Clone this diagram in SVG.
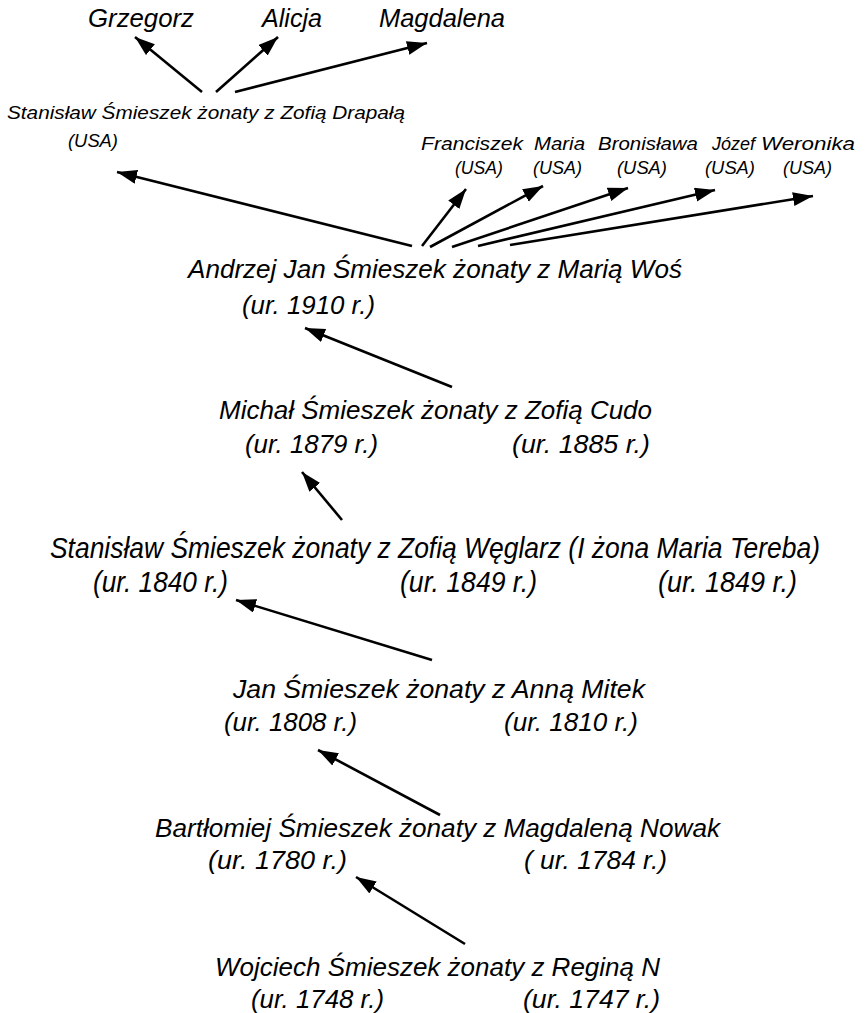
<svg xmlns="http://www.w3.org/2000/svg" width="865" height="1013" viewBox="0 0 865 1013">
  <style>
    text { font-family: "Liberation Sans", Arial, sans-serif; font-style: italic; fill: #000; }
    .big { font-size: 26px; }
    .mid { font-size: 26px; }
    .tall { font-size: 27px; }
    .small { font-size: 19px; }
    .link { stroke: #000; stroke-width: 2.6; fill: none; marker-end: url(#head); }
  </style>
  <defs>
    <marker id="head" markerUnits="userSpaceOnUse" markerWidth="22" markerHeight="16" refX="20" refY="7" orient="auto">
      <path d="M0,0 L20,7 L0,14 Z" fill="#000"/>
    </marker>
  </defs>
  <rect width="865" height="1013" fill="#fff"/>

  <!-- parent-to-child links -->
  <g id="connectors">
    <line class="link" x1="202" y1="92" x2="135" y2="37"/>
    <line class="link" x1="216" y1="92" x2="278" y2="37"/>
    <line class="link" x1="235" y1="92" x2="427" y2="43"/>
    <line class="link" x1="412" y1="246" x2="117" y2="172"/>
    <line class="link" x1="422" y1="246" x2="466" y2="189"/>
    <line class="link" x1="430" y1="247" x2="543" y2="186"/>
    <line class="link" x1="452" y1="247" x2="628" y2="188"/>
    <line class="link" x1="478" y1="246" x2="715" y2="190"/>
    <line class="link" x1="510" y1="245" x2="813" y2="196"/>
    <line class="link" x1="452" y1="387" x2="305" y2="328"/>
    <line class="link" x1="342" y1="520" x2="302" y2="472"/>
    <line class="link" x1="432" y1="660" x2="236" y2="600"/>
    <line class="link" x1="440" y1="815" x2="318" y2="750"/>
    <line class="link" x1="465" y1="944" x2="356" y2="877"/>
  </g>

  <g id="grzegorz"><text class="big" x="88" y="27" textLength="106" lengthAdjust="spacingAndGlyphs">Grzegorz</text></g>
  <g id="alicja"><text class="big" x="262" y="27" textLength="60" lengthAdjust="spacingAndGlyphs">Alicja</text></g>
  <g id="magdalena"><text class="big" x="379" y="27" textLength="126" lengthAdjust="spacingAndGlyphs">Magdalena</text></g>

  <g id="stanislaw-usa">
    <text class="small" x="7" y="119" textLength="398" lengthAdjust="spacingAndGlyphs">Stanisław Śmieszek żonaty z Zofią Drapałą</text>
    <text class="small" x="68" y="147" textLength="50" lengthAdjust="spacingAndGlyphs">(USA)</text>
  </g>

  <g id="franciszek">
    <text class="small" x="421" y="150" textLength="102" lengthAdjust="spacingAndGlyphs">Franciszek</text>
    <text class="small" x="455" y="174" textLength="48" lengthAdjust="spacingAndGlyphs">(USA)</text>
  </g>
  <g id="maria">
    <text class="small" x="534" y="150" textLength="51" lengthAdjust="spacingAndGlyphs">Maria</text>
    <text class="small" x="533" y="174" textLength="49" lengthAdjust="spacingAndGlyphs">(USA)</text>
  </g>
  <g id="bronislawa">
    <text class="small" x="598" y="150" textLength="100" lengthAdjust="spacingAndGlyphs">Bronisława</text>
    <text class="small" x="617" y="174" textLength="50" lengthAdjust="spacingAndGlyphs">(USA)</text>
  </g>
  <g id="jozef">
    <text class="small" x="712" y="150" textLength="43" lengthAdjust="spacingAndGlyphs">Józef</text>
    <text class="small" x="705" y="174" textLength="50" lengthAdjust="spacingAndGlyphs">(USA)</text>
  </g>
  <g id="weronika">
    <text class="small" x="761" y="150" textLength="94" lengthAdjust="spacingAndGlyphs">Weronika</text>
    <text class="small" x="783" y="174" textLength="49" lengthAdjust="spacingAndGlyphs">(USA)</text>
  </g>

  <g id="andrzej">
    <text class="mid" x="188" y="278" textLength="494" lengthAdjust="spacingAndGlyphs">Andrzej Jan Śmieszek żonaty z Marią Woś</text>
    <text class="mid" x="242" y="314" textLength="133" lengthAdjust="spacingAndGlyphs">(ur. 1910 r.)</text>
  </g>

  <g id="michal">
    <text class="mid" x="219" y="419" textLength="433" lengthAdjust="spacingAndGlyphs">Michał Śmieszek żonaty z Zofią Cudo</text>
    <text class="mid" x="245" y="453" textLength="133" lengthAdjust="spacingAndGlyphs">(ur. 1879 r.)</text>
    <text class="mid" x="512" y="453" textLength="138" lengthAdjust="spacingAndGlyphs">(ur. 1885 r.)</text>
  </g>

  <!-- this generation is set in slightly taller, narrower lettering -->
  <g id="stanislaw">
    <text class="tall" x="50" y="0" transform="translate(0,558) scale(1,1.07)" textLength="770" lengthAdjust="spacingAndGlyphs">Stanisław Śmieszek żonaty z Zofią Węglarz (I żona Maria Tereba)</text>
    <text class="tall" x="93" y="0" transform="translate(0,592) scale(1,1.07)" textLength="135" lengthAdjust="spacingAndGlyphs">(ur. 1840 r.)</text>
    <text class="tall" x="400" y="0" transform="translate(0,592) scale(1,1.07)" textLength="137" lengthAdjust="spacingAndGlyphs">(ur. 1849 r.)</text>
    <text class="tall" x="658" y="0" transform="translate(0,592) scale(1,1.07)" textLength="139" lengthAdjust="spacingAndGlyphs">(ur. 1849 r.)</text>
  </g>

  <g id="jan">
    <text class="mid" x="233" y="698" textLength="412" lengthAdjust="spacingAndGlyphs">Jan Śmieszek żonaty z Anną Mitek</text>
    <text class="mid" x="224" y="731" textLength="133" lengthAdjust="spacingAndGlyphs">(ur. 1808 r.)</text>
    <text class="mid" x="504" y="731" textLength="134" lengthAdjust="spacingAndGlyphs">(ur. 1810 r.)</text>
  </g>

  <g id="bartlomiej">
    <text class="mid" x="155" y="837" textLength="565" lengthAdjust="spacingAndGlyphs">Bartłomiej Śmieszek żonaty z Magdaleną Nowak</text>
    <text class="mid" x="208" y="869" textLength="139" lengthAdjust="spacingAndGlyphs">(ur. 1780 r.)</text>
    <text class="mid" x="524" y="869" textLength="143" lengthAdjust="spacingAndGlyphs">( ur. 1784 r.)</text>
  </g>

  <g id="wojciech">
    <text class="mid" x="215" y="976" textLength="445" lengthAdjust="spacingAndGlyphs">Wojciech Śmieszek żonaty z Reginą N</text>
    <text class="mid" x="251" y="1008" textLength="133" lengthAdjust="spacingAndGlyphs">(ur. 1748 r.)</text>
    <text class="mid" x="523" y="1008" textLength="137" lengthAdjust="spacingAndGlyphs">(ur. 1747 r.)</text>
  </g>
</svg>
